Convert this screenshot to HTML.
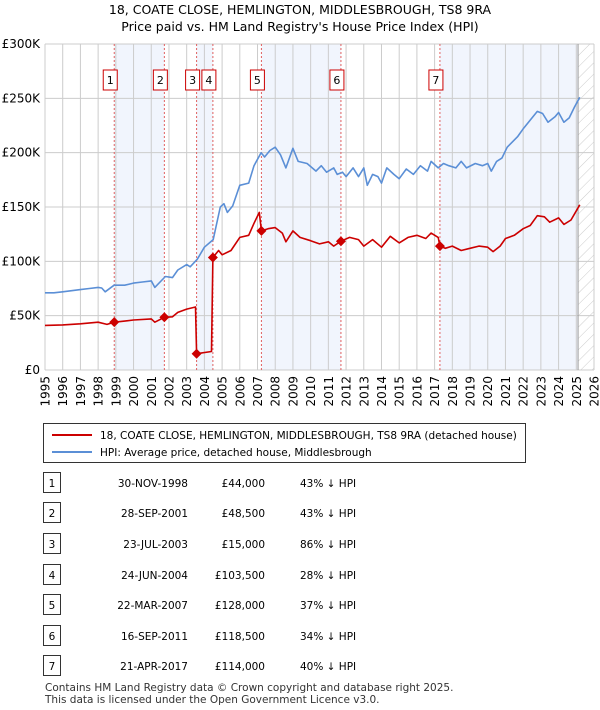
<!DOCTYPE html>
<html><head><meta charset="utf-8"><style>
body{margin:0;background:#fff;font-family:"DejaVu Sans","Liberation Sans",sans-serif;}
#wrap{position:relative;width:600px;height:710px;overflow:hidden}
svg text{font-family:"DejaVu Sans","Liberation Sans",sans-serif;}
</style></head><body><div id="wrap">
<svg id="chart" width="600" height="710" style="position:absolute;left:0;top:0"></svg>
</div>
<script>
const yearTicks=[1995,1996,1997,1998,1999,2000,2001,2002,2003,2004,2005,2006,2007,2008,2009,2010,2011,2012,2013,2014,2015,2016,2017,2018,2019,2020,2021,2022,2023,2024,2025,2026];
const valueTicks=[0,50,100,150,200,250,300];
const valueLabels=["£0","£50K","£100K","£150K","£200K","£250K","£300K"];
const hpiT=[1995,1995.5,1996,1996.5,1997,1997.5,1998,1998.2,1998.4,1998.9,1999.5,2000,2000.5,2001,2001.2,2001.8,2002.2,2002.5,2003,2003.2,2003.6,2004,2004.5,2004.9,2005.1,2005.3,2005.6,2006,2006.5,2006.8,2007.2,2007.4,2007.7,2008,2008.3,2008.6,2009,2009.3,2009.8,2010.3,2010.6,2010.9,2011.3,2011.5,2011.8,2012,2012.4,2012.7,2013,2013.2,2013.5,2013.8,2014,2014.3,2014.7,2015,2015.4,2015.8,2016.2,2016.6,2016.8,2017.2,2017.5,2017.8,2018.2,2018.5,2018.8,2019.3,2019.7,2020,2020.2,2020.5,2020.8,2021.1,2021.4,2021.7,2022,2022.4,2022.8,2023.1,2023.4,2023.8,2024,2024.3,2024.6,2024.9,2025.2];
const hpiV=[71,71,72,73,74,75,76,75.5,72,78,78,80,81,82,76,86,85,92,97,95,102,113,120,150,153,145,151,170,172,188,200,196,202,205,198,186,204,192,190,183,188,182,186,180,182,178,186,178,186,170,180,178,172,186,180,176,185,180,188,183,192,186,190,188,186,192,186,190,188,190,183,192,195,205,210,215,222,230,238,236,228,233,237,228,232,242,251];
const paidT=[1995,1996,1997,1998,1998.5,1998.91,1999.5,2000,2001,2001.2,2001.74,2002.2,2002.5,2003,2003.5,2003.56,2004.4,2004.48,2004.8,2005,2005.5,2006,2006.5,2006.8,2007.1,2007.22,2007.6,2008,2008.4,2008.6,2009,2009.4,2010,2010.5,2011,2011.3,2011.71,2012.2,2012.7,2013,2013.5,2014,2014.5,2015,2015.5,2016,2016.5,2016.8,2017.2,2017.3,2017.6,2018,2018.5,2019,2019.5,2020,2020.3,2020.7,2021,2021.5,2022,2022.4,2022.8,2023.2,2023.5,2024,2024.3,2024.7,2025.2];
const paidV=[41,41.5,42.5,44,42,44,45,46,47,44,48.5,49,53,56,58,15,17,103.5,110,106,110,122,124,135,145,128,130,131,126,118,128,122,119,116,118,114,118.5,122,120,114,120,113,123,117,122,124,121,126,122,114,112,114,110,112,114,113,109,114,121,124,130,133,142,141,136,140,134,138,152];
const saleT=[1998.91,2001.74,2003.56,2004.48,2007.22,2011.71,2017.3];
const saleV=[44,48.5,15,103.5,128,118.5,114];
const saleDates=["30-NOV-1998","28-SEP-2001","23-JUL-2003","24-JUN-2004","22-MAR-2007","16-SEP-2011","21-APR-2017"];
const salePrices=["£44,000","£48,500","£15,000","£103,500","£128,000","£118,500","£114,000"];
const salePct=["43% ↓ HPI","43% ↓ HPI","86% ↓ HPI","28% ↓ HPI","37% ↓ HPI","34% ↓ HPI","40% ↓ HPI"];

const L=45,R=594,T=44,B=370,x0=1995,x1=2026,vmax=300;
const X=t=>L+(t-x0)/(x1-x0)*(R-L);
const Y=v=>B-v/vmax*(B-T);
const svg=document.getElementById('chart');
const NS="http://www.w3.org/2000/svg";
function mk(tag,attrs,parent){const e=document.createElementNS(NS,tag);for(const k in attrs)e.setAttribute(k,attrs[k]);(parent||svg).appendChild(e);return e;}
const bandPairs=[[0,1],[2,3],[4,5]];
bandPairs.forEach(p=>{const r=mk('rect',{x:X(saleT[p[0]]),y:T,width:X(saleT[p[1]])-X(saleT[p[0]]),height:B-T,fill:'#eef3fc',opacity:0.8});

});
{const r=mk('rect',{x:X(saleT[6]),y:T,width:X(2025.1)-X(saleT[6]),height:B-T,fill:'#eef3fc',opacity:0.8});

}
const defs=mk('defs',{});
const pat=mk('pattern',{id:'hatch',width:8,height:8,patternUnits:'userSpaceOnUse',patternTransform:'rotate(45)'},defs);
mk('line',{x1:0,y1:0,x2:0,y2:8,stroke:'#ccc','stroke-width':1},pat);
{const r=mk('rect',{x:X(2025.1),y:T,width:R-X(2025.1),height:B-T,fill:'url(#hatch)'});

}
yearTicks.forEach(y=>{const l=mk('line',{x1:X(y),x2:X(y),y1:T,y2:B,stroke:'#ccc','stroke-width':1});


const tx=mk('text',{x:0,y:0,transform:`translate(${X(y)+4.5},${B+6}) rotate(-90)`,'text-anchor':'end','font-size':12,fill:'#000'});
tx.textContent=y;

});
valueTicks.forEach((v,i)=>{const l=mk('line',{x1:L,x2:R,y1:Y(v),y2:Y(v),stroke:'#ccc','stroke-width':1});


const tx=mk('text',{x:L-5,y:Y(v)+4,'text-anchor':'end','font-size':12,fill:'#000'});
tx.textContent=valueLabels[i];

});
mk('line',{x1:X(2025.1),x2:X(2025.1),y1:T,y2:B,stroke:'#999','stroke-width':1});
saleT.forEach((t,i)=>{const l=mk('line',{x1:X(t),x2:X(t),y1:T,y2:B,stroke:'#e06060','stroke-width':1,'stroke-dasharray':'2,2'});


const g=mk('g',{});


const cx=X(t)-4;
mk('rect',{x:cx-7,y:70,width:14,height:20,fill:'#fff',stroke:'#c00','stroke-width':1},g);
const tx=mk('text',{x:cx,y:84,'text-anchor':'middle','font-size':11,fill:'#000'},g);tx.textContent=i+1;});
function path(ts,vs,color,name){const d=ts.map((t,i)=>(i?'L':'M')+X(t).toFixed(1)+','+Y(vs[i]).toFixed(1)).join('');
const p=mk('path',{d:d,fill:'none',stroke:color,'stroke-width':1.6,'stroke-linejoin':'round'});

}
path(hpiT,hpiV,'#5b8fd6','hpi-line');
path(paidT,paidV,'#cc0000','price-paid-line');
saleT.forEach((t,i)=>{const x=X(t),y=Y(saleV[i]);const p=mk('path',{d:`M${x-5},${y}L${x},${y-5}L${x+5},${y}L${x},${y+5}Z`,fill:'#cc0000'});

});
[["18, COATE CLOSE, HEMLINGTON, MIDDLESBROUGH, TS8 9RA",14],["Price paid vs. HM Land Registry's House Price Index (HPI)",31]].forEach((s,i)=>{const tx=mk('text',{x:300,y:s[1],'text-anchor':'middle','font-size':12.5,fill:'#000'});tx.textContent=s[0];

});
const lg=mk('g',{});


mk('rect',{x:43.5,y:423.5,width:482,height:39,fill:'#fff',stroke:'#333','stroke-width':1},lg);
mk('line',{x1:52,x2:92,y1:435,y2:435,stroke:'#cc0000','stroke-width':2},lg);
mk('line',{x1:52,x2:92,y1:452,y2:452,stroke:'#5b8fd6','stroke-width':2},lg);
[["18, COATE CLOSE, HEMLINGTON, MIDDLESBROUGH, TS8 9RA (detached house)",439],["HPI: Average price, detached house, Middlesbrough",456]].forEach(s=>{const tx=mk('text',{x:100,y:s[1],'font-size':10.5,fill:'#000'},lg);tx.textContent=s[0];});
const rowY=[483,513,544,575,605,636,666];
rowY.forEach((y,i)=>{const g=mk('g',{});


mk('rect',{x:43.5,y:y-10.5,width:17,height:20,fill:'#fff',stroke:'#333'},g);
let tx=mk('text',{x:52,y:y+4,'text-anchor':'middle','font-size':10.5},g);tx.textContent=i+1;
tx=mk('text',{x:188,y:y+4,'text-anchor':'end','font-size':10.5},g);tx.textContent=saleDates[i];
tx=mk('text',{x:265,y:y+4,'text-anchor':'end','font-size':10.5},g);tx.textContent=salePrices[i];
tx=mk('text',{x:300,y:y+4,'font-size':10.5},g);tx.textContent=salePct[i];});
[["Contains HM Land Registry data © Crown copyright and database right 2025.",691],["This data is licensed under the Open Government Licence v3.0.",703]].forEach(s=>{const tx=mk('text',{x:45,y:s[1],'font-size':10.5,fill:'#333'});tx.textContent=s[0];

});
</script></body></html>
